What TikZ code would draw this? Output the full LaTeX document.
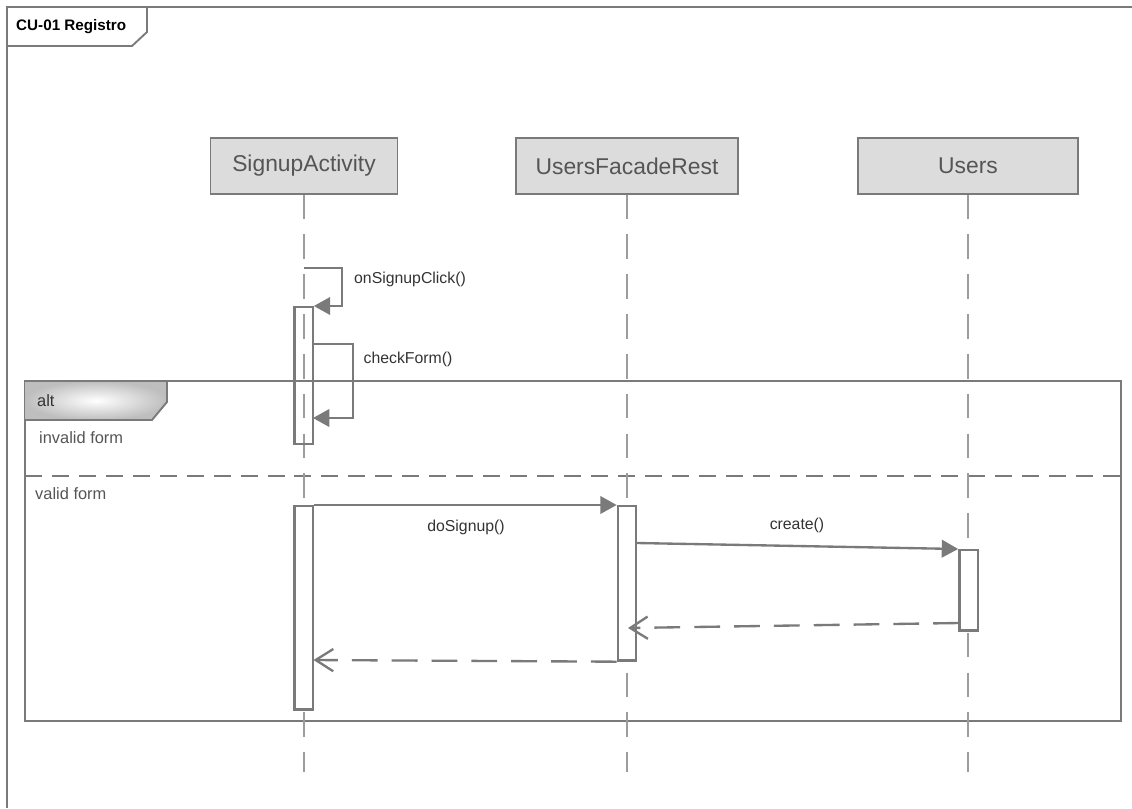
\documentclass[tikz,border=0pt]{standalone}
\usepackage{fontspec}
\setmainfont{Liberation Sans}
\usetikzlibrary{arrows.meta}
\definecolor{Line}{HTML}{7A7A7A}
\definecolor{Life}{HTML}{9C9C9C}
\definecolor{HeadFill}{HTML}{DCDCDC}
\definecolor{HeadInk}{HTML}{555555}
\definecolor{Ink}{HTML}{333333}
\definecolor{TabGray}{HTML}{BEBEBE}

\begin{document}
\begin{tikzpicture}[
    x=0.03cm, y=-0.03cm,
    head/.style={draw=Line, line width=1pt, fill=HeadFill, minimum height=1.68cm,
      inner sep=0pt, text=HeadInk, font=\fontsize{19.5}{22}\selectfont},
    life/.style={draw=Life, line width=1.4pt, dash pattern=on 21pt off 13pt},
    bar/.style={draw=Line, line width=2pt, minimum width=0.55cm, inner sep=0pt,
      anchor=north},
    msg/.style={draw=Line, line width=2pt, -{Triangle[length=14pt,width=15pt]}},
    reply/.style={draw=Line, line width=2pt, dash pattern=on 22pt off 12pt,
      -{Straight Barb[length=15pt,width=19pt,line width=2pt]}},
    lbl/.style={font=\fontsize{13.5}{15}\selectfont, text=Ink, inner sep=0pt},
    note/.style={font=\fontsize{14}{16}\selectfont, text=HeadInk, inner sep=0pt,
      anchor=west},
    frame/.style={draw=Line, line width=1.6pt},
    sep/.style={draw=Line, line width=1.4pt, dash pattern=on 14.5pt off 8.5pt}
  ]
    \useasboundingbox (0,0) rectangle (1132,808);

    % outer frame and its tab
    \draw[frame] (1132,7) -- (7,7) -- (7,808);
    \draw[frame, fill=white] (7,7) -- (147,7) -- (147,32) -- (132,46) -- (7,46) -- cycle;
    \node[anchor=west, inner sep=0pt, font=\fontsize{13}{15}\selectfont\bfseries] (title)
      at (16,27) {CU-01 Registro};

    % combined fragment
    \draw[frame] (25,381) rectangle (1121,721);
    \shade[inner color=white, outer color=TabGray]
      (25,381) -- (167,381) -- (167,402) -- (152,420) -- (25,420) -- cycle;
    \draw[frame] (25,381) -- (167,381) -- (167,402) -- (152,420) -- (25,420);
    \draw[sep] (25,476) -- (1121,476);
    \node[note, text=Ink] (alt) at (37,401) {alt};
    \node[note] (invalid) at (39,438) {invalid form};
    \node[note] (valid) at (35,494) {valid form};

    % lifelines
    \node[head, minimum width=5.61cm] (signup) at (304,166) {SignupActivity};
    \node[head, minimum width=6.66cm] (facade) at (627,166) {UsersFacadeRest};
    \node[head, minimum width=6.6cm] (users) at (968,166) {Users};

    \coordinate (signupEnd) at (304,772);
    \coordinate (facadeEnd) at (627,772);
    \coordinate (usersEnd) at (968,772);
    \draw[life] (signup.south) -- (signupEnd);
    \draw[life] (facade.south) -- (facadeEnd);
    \draw[life] (users.south) -- (usersEnd);

    % activations
    \node[bar, minimum height=4.1cm] (b1) at (303.5,306) {};
    \node[bar, fill=white, minimum height=6.1cm] (b2) at (303.5,505) {};
    \node[bar, fill=white, minimum height=4.63cm] (b3) at (627,505) {};
    \node[bar, fill=white, minimum height=2.41cm] (b4) at (968.5,549) {};

    % messages
    \coordinate (clickA) at (304,268);
    \draw[msg] (clickA) -- ++(38,0) |- (b1.north east);
    \node[lbl] (click) at (410,279) {onSignupClick()};

    \coordinate (formA) at (313,344);
    \coordinate (formB) at (313,418);
    \draw[msg] (formA) -- ++(40,0) |- (formB);
    \node[lbl] (form) at (408,359) {checkForm()};

    \draw[msg] (b2.north east) -- (b3.north west);
    \node[lbl] (dosignup) at (466,527) {doSignup()};

    \coordinate (createA) at (637,543);
    \draw[msg] (createA) -- (b4.north west);
    \node[lbl] (create) at (797,525) {create()};

    \coordinate (backA) at (959,623);
    \coordinate (backB) at (628,628);
    \draw[reply] (backA) -- (backB);

    \coordinate (doneB) at (313.5,660);
    \draw[reply] (b3.south west) -- (doneB);
  \end{tikzpicture}
\end{document}
